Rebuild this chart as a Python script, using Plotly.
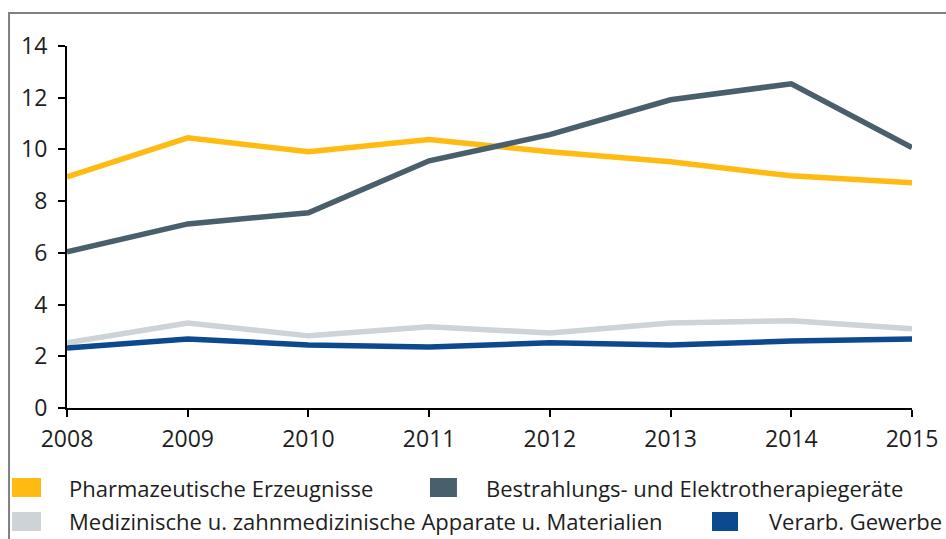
import plotly.graph_objects as go

# Daten
jahre = [2008, 2009, 2010, 2011, 2012, 2013, 2014, 2015]
pharma = [8.94, 10.45, 9.91, 10.38, 9.91, 9.52, 8.98, 8.71]
bestrahlung = [6.04, 7.12, 7.55, 9.56, 10.57, 11.92, 12.54, 10.07]
medizin = [2.52, 3.29, 2.79, 3.14, 2.90, 3.29, 3.37, 3.06]
verarb = [2.32, 2.67, 2.44, 2.36, 2.52, 2.44, 2.59, 2.67]

namen = [
    'Pharmazeutische Erzeugnisse',
    'Bestrahlungs- und Elektrotherapiegeräte',
    'Medizinische u. zahnmedizinische Apparate u. Materialien',
    'Verarb. Gewerbe',
]
farben = ['#FFBB11', '#4A5F6C', '#CDD3D6', '#0B4A8F']
y_ticks = [0, 2, 4, 6, 8, 10, 12, 14]

FONT = 'Open Sans'
TEXT = '#1e1e1e'

fig = go.Figure()

# Zeichenreihenfolge: hell zuerst, damit dunkle Linien oben liegen
for werte, i in [(medizin, 2), (verarb, 3), (pharma, 0), (bestrahlung, 1)]:
    fig.add_trace(go.Scatter(
        x=jahre,
        y=werte,
        mode='lines',
        name=namen[i],
        line=dict(color=farben[i], width=5.5),
        showlegend=False,
        cliponaxis=False
    ))

# Rahmen
fig.add_shape(type='rect', xref='paper', yref='paper',
              x0=-0.0686, x1=1.05, y0=-0.40, y1=1.0912,
              line=dict(color='#808080', width=2), fillcolor='rgba(0,0,0,0)')

# Legende (manuell, mit Farbquadraten)
legende = [
    (0, -0.0651, -0.0308, 0.0, -0.1934, -0.2459, -0.221),
    (1, 0.4296, 0.4615, 0.4935, -0.1934, -0.2459, -0.221),
    (2, -0.0651, -0.0308, 0.0, -0.2873, -0.3398, -0.3135),
    (3, 0.7633, 0.7941, 0.8284, -0.2873, -0.3398, -0.3135),
]
for i, sx0, sx1, tx, sy0, sy1, ty in legende:
    fig.add_shape(type='rect', xref='paper', yref='paper',
                  x0=sx0, x1=sx1, y0=sy1, y1=sy0,
                  line=dict(width=0), fillcolor=farben[i])
    fig.add_annotation(xref='paper', yref='paper', x=tx, y=ty,
                       text=namen[i], showarrow=False,
                       xanchor='left', yanchor='middle',
                       font=dict(family=FONT, size=22, color=TEXT))

fig.update_layout(
    width=946,
    height=539,
    margin=dict(l=67, r=34, t=46, b=131),
    paper_bgcolor='white',
    plot_bgcolor='white',
    font=dict(family=FONT, size=23, color=TEXT),
    xaxis=dict(
        range=[2008, 2015],
        tickvals=jahre,
        ticktext=[str(j) for j in jahre],
        showgrid=False,
        zeroline=False,
        showline=True,
        linecolor='black',
        linewidth=2,
        ticks='outside',
        ticklen=7,
        tickwidth=2,
        tickcolor='black',
        ticklabelstandoff=2,
        automargin=False,
    ),
    yaxis=dict(
        range=[0, 14],
        tickvals=y_ticks,
        showgrid=False,
        zeroline=False,
        showline=True,
        linecolor='black',
        linewidth=2,
        ticks='outside',
        ticklen=7,
        tickwidth=2,
        tickcolor='black',
        ticklabelstandoff=6,
        automargin=False,
    ),
)

fig.write_html('out.html', config={'displayModeBar': False},
               post_script="document.body.style.margin='0';")
